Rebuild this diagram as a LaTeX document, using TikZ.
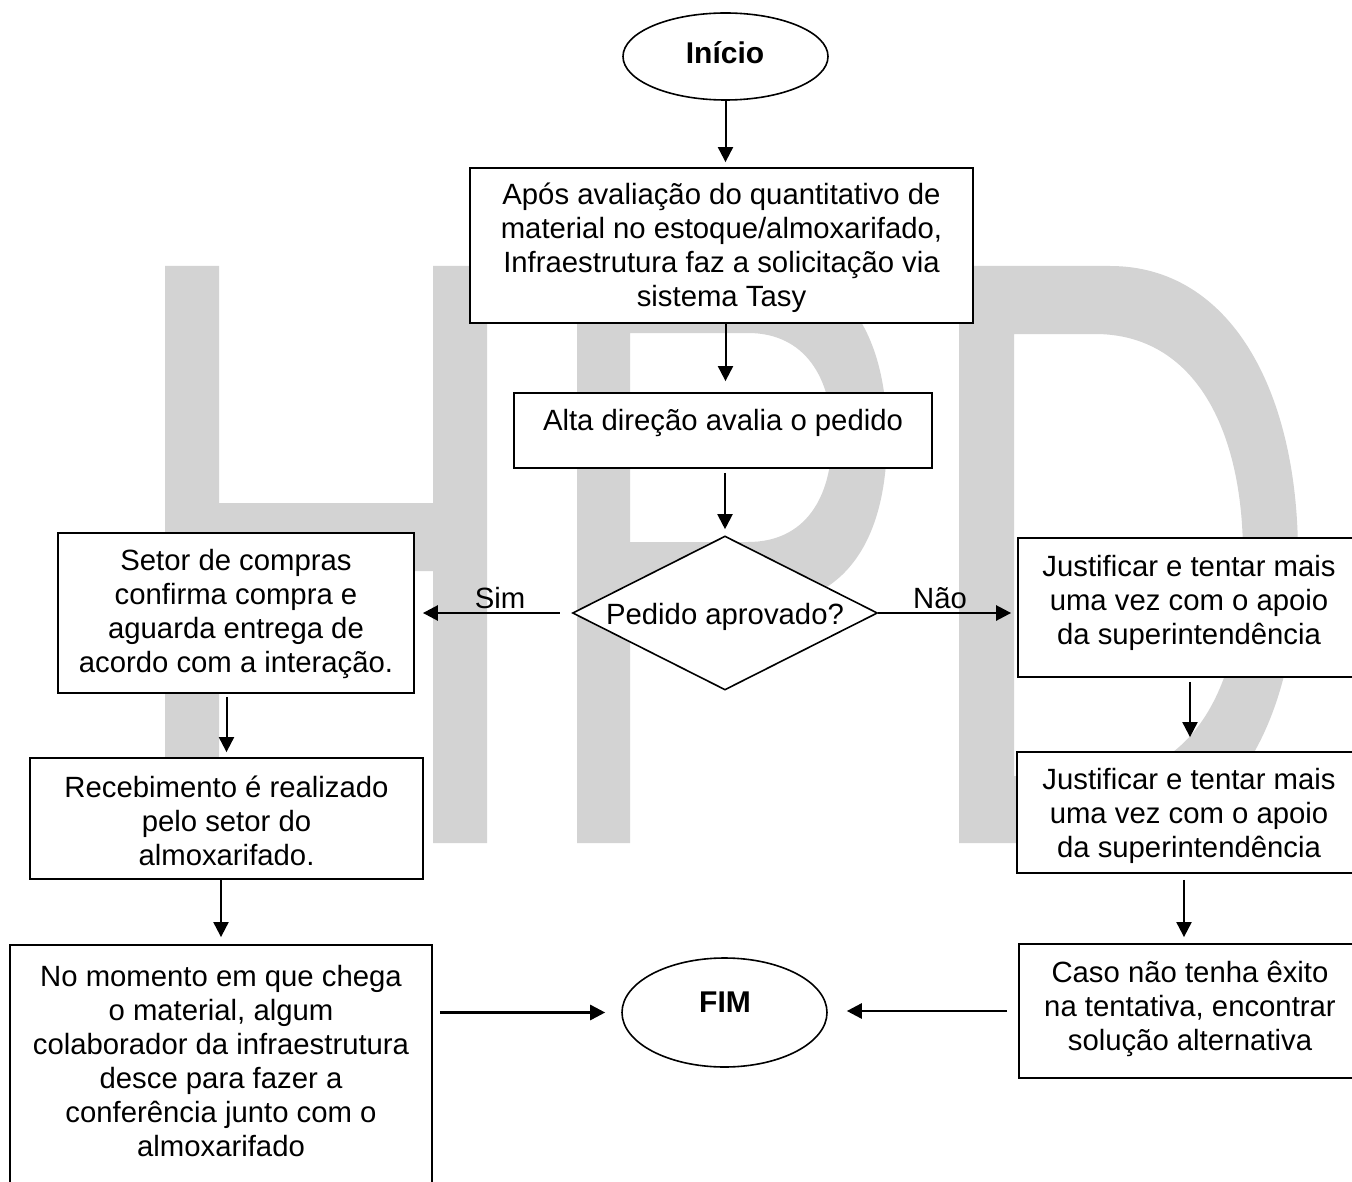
\documentclass[tikz,border=0pt]{standalone}
\usepackage{fontspec}
\setmainfont{Liberation Sans}
\usetikzlibrary{shapes.geometric,arrows.meta}
\definecolor{wmark}{RGB}{211,211,211}
\tikzset{
  box/.style={draw=black, fill=white, line width=1.8pt, inner sep=0pt},
  term/.style={ellipse, draw=black, fill=white, line width=1.6pt, inner sep=0pt},
  decision/.style={diamond, draw=black, fill=white, line width=1.6pt, inner sep=0pt},
  txt/.style={align=center, inner sep=0pt, font=\fontsize{29.3}{34}\selectfont},
  btxt/.style={align=center, inner sep=0pt, font=\fontsize{30}{34}\selectfont\bfseries},
  arr/.style={draw=black, line width=2pt, -{Triangle[length=15pt,width=15pt]}},
  harr/.style={draw=black, line width=2.6pt, -{Triangle[length=15pt,width=15pt]}}
}
\begin{document}
\begin{tikzpicture}[x=1pt,y=-1pt]
\useasboundingbox (0,0) rectangle (1352,1182);
\clip (0,0) rectangle (1352,1182);
\fill[white] (0,0) rectangle (1352,1182);

% watermark HPD
\fill[wmark] (165,266) -- (219,266) -- (219,503) -- (433,503) -- (433,266) -- (487,266)
  -- (487,843) -- (433,843) -- (433,571) -- (219,571) -- (219,843) -- (165,843) -- cycle;
\fill[wmark, even odd rule]
  (577,266) -- (760,266) .. controls (845,266) and (887,335) .. (887,437)
  .. controls (887,540) and (845,605) .. (760,605) -- (630,605) -- (630,843) -- (577,843) -- cycle
  (630,333) -- (748,333) .. controls (805,333) and (832,378) .. (832,437)
  .. controls (832,498) and (805,542) .. (748,542) -- (630,542) -- cycle;
\fill[wmark, even odd rule]
  (959,266) -- (1110,266) .. controls (1230,266) and (1298,390) .. (1298,555)
  .. controls (1298,720) and (1230,843) .. (1110,843) -- (959,843) -- cycle
  (1014,334) -- (1095,334) .. controls (1195,334) and (1243,430) .. (1243,555)
  .. controls (1243,690) and (1190,776) .. (1100,776) -- (1014,776) -- cycle;

% shapes
\node[term, minimum width=205pt, minimum height=87pt] (ini) at (725.5,56.5) {};
\node[btxt] (init) at (725,53) {Início};

\node[box, minimum width=503pt, minimum height=155pt] (A) at (721.5,245.5) {};
\node[txt] (At) at (721.5,248) {Após avaliação do quantitativo de\\material no estoque/almoxarifado,\\Infraestrutura faz a solicitação via\\sistema Tasy};

\node[box, minimum width=418pt, minimum height=75pt] (B) at (723,430.5) {};
\node[txt] (Bt) at (723,423) {Alta direção avalia o pedido};

\node[decision, minimum width=305pt, minimum height=154pt] (dia) at (725,613) {};
\node[txt] (diat) at (725,617) {Pedido aprovado?};

\node[box, minimum width=356pt, minimum height=160pt] (C) at (236,613) {};
\node[txt] (Ct) at (236,614) {Setor de compras\\confirma compra e\\aguarda entrega de\\acordo com a interação.};

\node[box, minimum width=393pt, minimum height=121pt] (D) at (226.5,818.5) {};
\node[txt] (Dt) at (226.5,821) {Recebimento é realizado\\pelo setor do\\almoxarifado.};

\node[box, minimum width=422pt, minimum height=260pt] (E) at (221,1075) {};
\node[txt] (Et) at (221,1061) {No momento em que chega\\o material, algum\\colaborador da infraestrutura\\desce para fazer a\\conferência junto com o\\almoxarifado};

\node[term, minimum width=205pt, minimum height=109pt] (fim) at (724.5,1012.5) {};
\node[btxt] (fimt) at (725,1002) {FIM};

\node[box, minimum width=344pt, minimum height=139pt] (G) at (1190,607.5) {};
\node[txt] (Gt) at (1189,603) {Justificar e tentar mais\\uma vez com o apoio\\da superintendência};

\node[box, minimum width=345pt, minimum height=121pt] (H) at (1189.5,812.5) {};
\node[txt] (Ht) at (1189,816) {Justificar e tentar mais\\uma vez com o apoio\\da superintendência};

\node[box, minimum width=343pt, minimum height=134pt] (F) at (1190.5,1011) {};
\node[txt] (Ft) at (1190,1009) {Caso não tenha êxito\\na tentativa, encontrar\\solução alternativa};

% labels
\node[txt] (sim) at (500,598) {Sim};
\node[txt] (nao) at (940,598) {Não};

% connectors
\draw[arr, shorten >=5pt] (ini.south) -- (ini.south |- A.north);
\draw[arr, shorten >=11pt] (A.south -| ini.south) -- (B.north -| ini.south);
\draw[arr, shorten <=4pt, shorten >=6pt] (B.south -| dia.north) -- (dia.north);
\draw[harr, shorten <=12pt, shorten >=8pt] (dia.west) -- (C.east |- dia.west);
\draw[harr, shorten >=6pt] (dia.east) -- (G.west |- dia.east);
\draw[arr, shorten <=3pt, shorten >=5pt] (C.south -| D.north) -- (D.north);
\draw[arr, shorten >=7pt] (D.south -| E.north) -- (E.north);
\draw[harr, shorten <=7pt, shorten >=16pt] (E.east |- fim.west) -- (fim.west);
\draw[arr, shorten <=4pt, shorten >=14pt] (G.south) -- (G.south |- H.north);
\draw[arr, shorten <=6pt, shorten >=6pt] ([xshift=-5.5pt]H.south) -- ([xshift=-5.5pt]H.south |- F.north);
\draw[harr, shorten <=11pt, shorten >=19pt] (F.west) -- (fim.east |- F.west);
\end{tikzpicture}
\end{document}
